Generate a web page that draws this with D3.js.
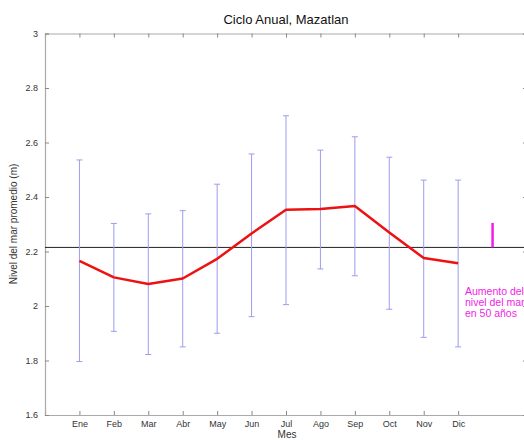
<!DOCTYPE html>
<html>
<head>
<meta charset="utf-8">
<script src="https://cdn.jsdelivr.net/npm/d3@7"></script>
<style>
  body { margin: 0; background: #fff; }
  svg { display: block; font-family: "Liberation Sans", Arial, sans-serif; }
</style>
</head>
<body>
<div id="chart"></div>
<script>
var months = ["Ene", "Feb", "Mar", "Abr", "May", "Jun", "Jul", "Ago", "Sep", "Oct", "Nov", "Dic"];
var meanLevel  = [2.166, 2.105, 2.081, 2.101, 2.173, 2.266, 2.353, 2.356, 2.367, 2.270, 2.176, 2.157];
var upperLevel = [2.536, 2.303, 2.338, 2.350, 2.447, 2.558, 2.698, 2.572, 2.621, 2.546, 2.462, 2.462];
var lowerLevel = [1.796, 1.907, 1.822, 1.850, 1.900, 1.961, 2.005, 2.136, 2.111, 1.988, 1.885, 1.850];
var yTicks = [1.6, 1.8, 2, 2.2, 2.4, 2.6, 2.8, 3];
var refLevel = 2.215;
var riseBar = [2.215, 2.305];  // aumento en 50 años
var riseLabel = ["Aumento del", "nivel del mar", "en 50 años"];

var width = 524, height = 440;
var svg = d3.select("#chart").append("svg")
            .attr("width", width)
            .attr("height", height);

var x = d3.scaleLinear().domain([0, 14]).range([45, 527]);
var y = d3.scaleLinear().domain([1.6, 3]).range([415, 33.5]);

var monthIdx = d3.range(1, 13);

// ejes (estilo matlab, ticks hacia adentro)
var axisColor = "#aaa";

var bottomAxis = svg.append("g")
   .attr("transform", "translate(0," + y(1.6) + ")")
   .call(d3.axisBottom(x).tickValues(monthIdx).tickSize(-4).tickPadding(6)
           .tickFormat(function (d) { return months[d - 1]; }));

var topAxis = svg.append("g")
   .attr("transform", "translate(0," + y(3) + ")")
   .call(d3.axisTop(x).tickValues(monthIdx).tickSize(-4).tickFormat(""));

var leftAxis = svg.append("g")
   .attr("transform", "translate(" + x(0) + ",0)")
   .call(d3.axisLeft(y).tickValues(yTicks).tickSize(-4).tickPadding(7)
           .tickFormat(function (d) { return d3.format("")(d); }));

var rightAxis = svg.append("g")
   .attr("transform", "translate(" + x(14) + ",0)")
   .call(d3.axisRight(y).tickValues(yTicks).tickSize(-4).tickFormat(""));

svg.selectAll(".domain").attr("stroke", axisColor).attr("stroke-width", 1.2);
svg.selectAll(".tick line").attr("stroke", "#888");
svg.selectAll(".tick text").attr("fill", "#333").style("font-size", "9px");

// linea de referencia
svg.append("line")
   .attr("x1", x(0)).attr("x2", x(14))
   .attr("y1", y(refLevel)).attr("y2", y(refLevel))
   .attr("stroke", "#222").attr("stroke-width", 1);

// barras de error
var errColor = "#9c9cf0";
var bars = svg.append("g").selectAll("g")
              .data(monthIdx)
              .enter()
              .append("g");

bars.append("line")
    .attr("x1", function (d) { return x(d); })
    .attr("x2", function (d) { return x(d); })
    .attr("y1", function (d) { return y(upperLevel[d - 1]); })
    .attr("y2", function (d) { return y(lowerLevel[d - 1]); })
    .attr("stroke", errColor).attr("stroke-width", 1);

bars.append("line")
    .attr("x1", function (d) { return x(d) - 3; })
    .attr("x2", function (d) { return x(d) + 3; })
    .attr("y1", function (d) { return y(upperLevel[d - 1]); })
    .attr("y2", function (d) { return y(upperLevel[d - 1]); })
    .attr("stroke", errColor).attr("stroke-width", 1);

bars.append("line")
    .attr("x1", function (d) { return x(d) - 3; })
    .attr("x2", function (d) { return x(d) + 3; })
    .attr("y1", function (d) { return y(lowerLevel[d - 1]); })
    .attr("y2", function (d) { return y(lowerLevel[d - 1]); })
    .attr("stroke", errColor).attr("stroke-width", 1);

// promedio mensual
var line = d3.line()
             .x(function (d, i) { return x(i + 1); })
             .y(function (d) { return y(d); });

svg.append("path")
   .datum(meanLevel)
   .attr("d", line)
   .attr("fill", "none")
   .attr("stroke", "#ee1111")
   .attr("stroke-width", 2.5)
   .attr("stroke-linejoin", "round");

// aumento del nivel del mar
svg.append("line")
   .attr("x1", x(13)).attr("x2", x(13))
   .attr("y1", y(riseBar[0])).attr("y2", y(riseBar[1]))
   .attr("stroke", "#f01ee6").attr("stroke-width", 2.5);

svg.append("g").selectAll("text")
   .data(riseLabel)
   .enter()
   .append("text")
   .attr("x", 465)
   .attr("y", function (d, i) { return 295 + i * 11; })
   .attr("fill", "#f01ee6")
   .style("font-size", "10.5px")
   .text(function (d) { return d; });

// titulos
svg.append("text")
   .attr("x", 286).attr("y", 24)
   .attr("text-anchor", "middle")
   .style("font-size", "13px")
   .attr("fill", "#111")
   .text("Ciclo Anual, Mazatlan");

svg.append("text")
   .attr("x", 287).attr("y", 438)
   .attr("text-anchor", "middle")
   .style("font-size", "10px")
   .attr("fill", "#333")
   .text("Mes");

svg.append("text")
   .attr("transform", "translate(17," + 224 + ") rotate(-90)")
   .attr("text-anchor", "middle")
   .style("font-size", "10px")
   .attr("fill", "#333")
   .text("Nivel del mar promedio (m)");
</script>
</body>
</html>
